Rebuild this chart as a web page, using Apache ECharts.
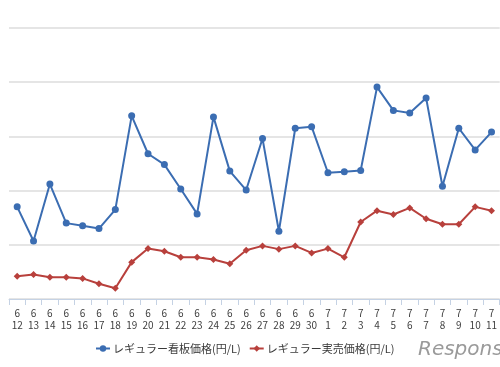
<!DOCTYPE html>
<html><head><meta charset="utf-8">
<script src="https://cdn.jsdelivr.net/npm/echarts@6/dist/echarts.min.js"></script>
<style>html,body{margin:0;padding:0;background:#fff}#c{width:500px;height:367px}</style>
</head><body><div id="c"></div>
<script>
const months = [6,6,6,6,6,6,6,6,6,6,6,6,6,6,6,6,6,6,6,7,7,7,7,7,7,7,7,7,7,7];
const days = [12,13,14,15,16,17,18,19,20,21,22,23,24,25,26,27,28,29,30,1,2,3,4,5,6,7,8,9,10,11];
const seriesNames = ['レギュラー看板価格(円/L)', 'レギュラー実売価格(円/L)'];
const signboard = [151.70,151.07,152.12,151.40,151.35,151.30,151.65,153.38,152.68,152.48,152.03,151.57,153.36,152.36,152.01,152.96,151.25,153.15,153.18,152.33,152.35,152.37,153.91,153.48,153.43,153.71,152.08,153.15,152.75,153.08];
const actual = [150.42,150.45,150.40,150.40,150.38,150.28,150.20,150.68,150.93,150.88,150.77,150.77,150.73,150.65,150.90,150.98,150.92,150.98,150.85,150.93,150.77,151.42,151.63,151.56,151.68,151.48,151.38,151.38,151.70,151.63];
const yMin = 150, yMax = 155, yStep = 1;

const categories = months.map((m, i) => m + '\n' + days[i]);
const chart = echarts.init(document.getElementById('c'), null, {renderer: 'canvas'});
chart.setOption({
  animation: false,
  grid: {left: 9, top: 28, width: 495, height: 271},
  legend: {
    top: 338, left: 90, itemGap: 8, itemWidth: 14, itemHeight: 8,
    textStyle: {fontFamily: 'Noto Sans CJK JP', fontSize: 11, color: '#3a3a3a', padding: [0, 0, 0, -2]},
    data: seriesNames
  },
  xAxis: {
    type: 'category', data: categories, boundaryGap: true,
    axisLine: {lineStyle: {color: '#c5d2e4', width: 1}},
    axisTick: {show: true, length: 6, lineStyle: {color: '#c5d2e4'}},
    axisLabel: {fontFamily: 'Noto Sans CJK JP', fontSize: 10, color: '#404040', lineHeight: 12, margin: 8, interval: 0}
  },
  yAxis: {
    type: 'value', min: yMin, max: yMax, interval: yStep,
    axisLabel: {show: false}, axisLine: {show: false}, axisTick: {show: false},
    splitLine: {lineStyle: {color: '#dcdcdc', width: 1.5}}
  },
  series: [
    {name: seriesNames[0], type: 'line', data: signboard, symbol: 'circle', symbolSize: 7,
     lineStyle: {color: '#3b6db2', width: 2}, itemStyle: {color: '#3b6db2'}},
    {name: seriesNames[1], type: 'line', data: actual, symbol: 'diamond', symbolSize: 7,
     lineStyle: {color: '#b8403c', width: 2}, itemStyle: {color: '#b8403c'}}
  ],
  graphic: [{
    type: 'text', left: 418, top: 340,
    style: {text: 'Respons', font: 'italic 20px "DejaVu Sans"', fill: '#9a9a9a'}
  }]
});
</script></body></html>
